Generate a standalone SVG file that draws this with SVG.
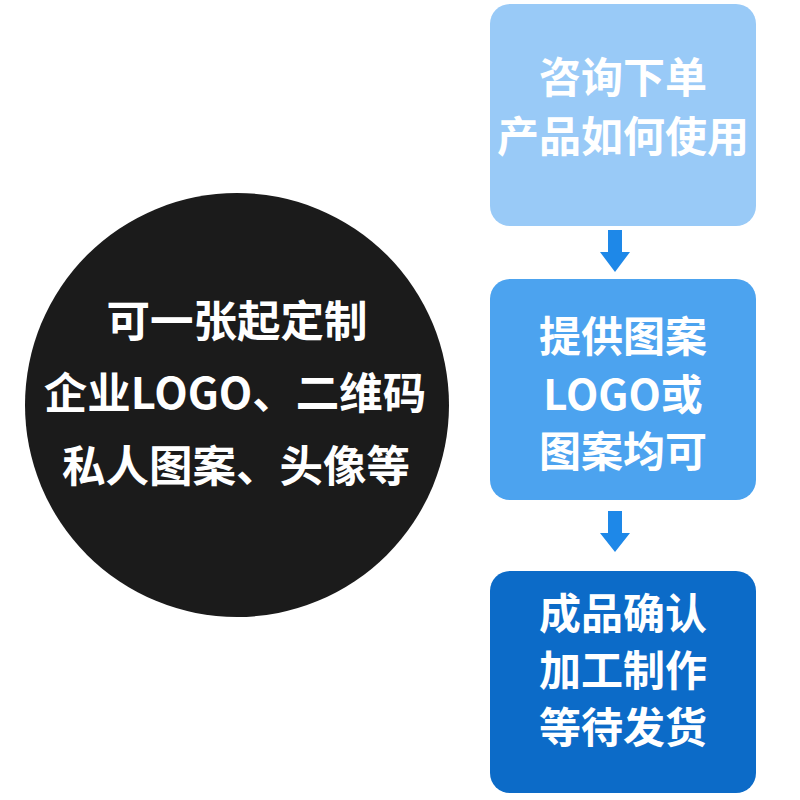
<svg xmlns="http://www.w3.org/2000/svg" width="800" height="800" viewBox="0 0 800 800">
<style>
.t{font-family:"Noto Sans CJK SC","Noto Sans",sans-serif;font-weight:bold;fill:#fff;text-anchor:middle;dominant-baseline:central}
.b{font-size:42px}
.c{font-size:43.5px}
.arrow{fill:#1E88E8}
</style>
<rect width="800" height="800" fill="#fff"/>
<g id="circle">
<circle cx="237" cy="405" r="212" fill="#1B1B1B"/>
<text class="t c" x="237" y="318">可一张起定制</text>
<text class="t c" x="235" y="390">企业LOGO、二维码</text>
<text class="t c" x="236" y="463">私人图案、头像等</text>
</g>
<g id="step1">
<rect x="490" y="4" width="266" height="222" rx="20" fill="#99CAF7"/>
<text class="t b" x="623" y="74">咨询下单</text>
<text class="t b" x="623" y="133">产品如何使用</text>
</g>
<g id="step2">
<rect x="490" y="279" width="266" height="221" rx="20" fill="#4CA3EF"/>
<text class="t b" x="623" y="333">提供图案</text>
<text class="t b" x="623" y="391">LOGO或</text>
<text class="t b" x="623" y="448">图案均可</text>
</g>
<g id="step3">
<rect x="490" y="571" width="266" height="222" rx="20" fill="#0C6BC8"/>
<text class="t b" x="623" y="610">成品确认</text>
<text class="t b" x="623" y="667">加工制作</text>
<text class="t b" x="623" y="724">等待发货</text>
</g>
<g id="connectors">
<path class="arrow" d="M608 230H622V252H630L615 272L600 252H608Z"/>
<path class="arrow" d="M608 511H622V533H630L615 552L600 533H608Z"/>
</g>
</svg>
